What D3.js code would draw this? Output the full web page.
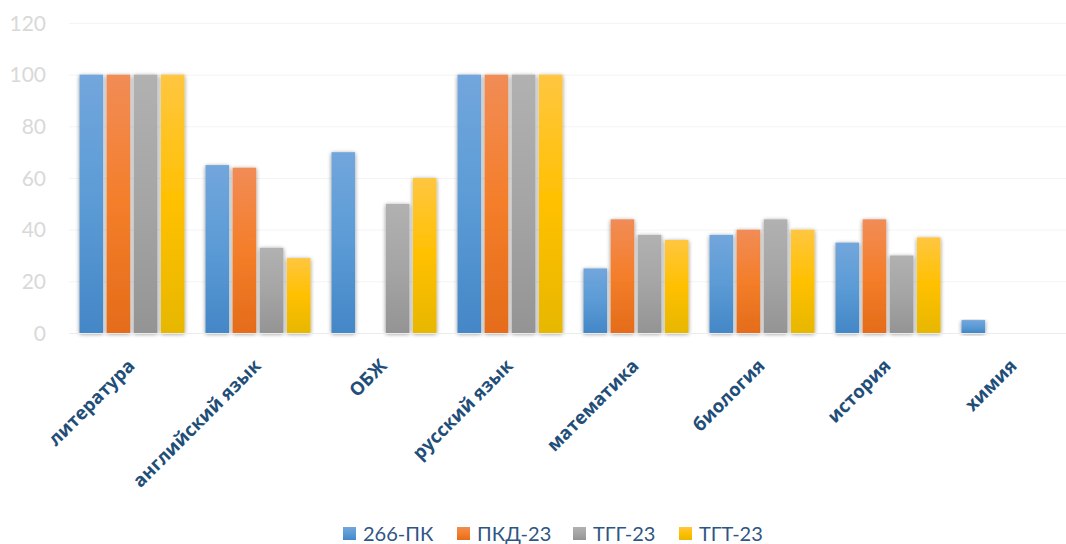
<!DOCTYPE html>
<html>
<head>
<meta charset="utf-8">
<script src="https://cdn.jsdelivr.net/npm/d3@7"></script>
<style>
  body { margin: 0; background: #fff; }
  svg { display: block; font-family: Lato, "Open Sans", sans-serif; }
</style>
</head>
<body>
<svg id="svg" width="1066" height="544"></svg>
<script>
  // данные
  var categories = ['литература', 'английский язык', 'ОБЖ', 'русский язык',
                    'математика', 'биология', 'история', 'химия'];
  var series = ['266-ПК', 'ПКД-23', 'ТГГ-23', 'ТГТ-23'];
  var values266 = [100, 65, 70, 100, 25, 38, 35, 5];
  var valuesPkd = [100, 64, 0, 100, 44, 40, 44, 0];
  var valuesTgg = [100, 33, 50, 100, 38, 44, 30, 0];
  var valuesTgt = [100, 29, 60, 100, 36, 40, 37, 0];
  var yTicks = [0, 20, 40, 60, 80, 100, 120];

  var seriesValues = [values266, valuesPkd, valuesTgg, valuesTgt];
  // цвета градиента: верх, середина, низ
  var colors = [
    ['#72a6dc', '#5b9bd5', '#4487c7'],
    ['#f18c56', '#f47e2a', '#e46c1a'],
    ['#b1b1b1', '#a5a5a5', '#949494'],
    ['#ffc640', '#ffc000', '#e7b700']
  ];

  var svg = d3.select('#svg');

  var x = d3.scaleBand().domain(categories).range([69, 1077])
      .paddingInner(0.1667).paddingOuter(0.0833);
  var xs = d3.scaleBand().domain(series).range([0, x.bandwidth()])
      .paddingInner(0.13).paddingOuter(0);
  var y = d3.scaleLinear().domain([0, 120]).range([333, 23]);

  // ==== defs: градиенты и тень
  var defs = svg.append('defs');
  series.forEach(function (s, i) {
    var g = defs.append('linearGradient').attr('id', 'grad' + i)
      .attr('x1', 0).attr('y1', 0).attr('x2', 0).attr('y2', 1);
    g.append('stop').attr('offset', '0%').attr('stop-color', colors[i][0]);
    g.append('stop').attr('offset', '50%').attr('stop-color', colors[i][1]);
    g.append('stop').attr('offset', '100%').attr('stop-color', colors[i][2]);
  });
  var f = defs.append('filter').attr('id', 'shadow')
    .attr('x', '-50%').attr('y', '-10%').attr('width', '200%').attr('height', '130%');
  f.append('feGaussianBlur').attr('in', 'SourceAlpha').attr('stdDeviation', 2.2).attr('result', 'b');
  f.append('feOffset').attr('in', 'b').attr('dx', 0).attr('dy', 1).attr('result', 'o');
  f.append('feComponentTransfer').attr('in', 'o').attr('result', 'a')
    .append('feFuncA').attr('type', 'linear').attr('slope', 0.45);
  var m = f.append('feMerge');
  m.append('feMergeNode').attr('in', 'a');
  m.append('feMergeNode').attr('in', 'SourceGraphic');

  // ==== сетка и ось Y
  svg.append('g').selectAll('line').data(yTicks.slice(1)).enter().append('line')
    .attr('x1', 69).attr('x2', 1066)
    .attr('y1', function (d) { return y(d) + 0.5; })
    .attr('y2', function (d) { return y(d) + 0.5; })
    .attr('stroke', '#f4f4f4').attr('stroke-width', 1);

  svg.append('g').selectAll('text').data(yTicks).enter().append('text')
    .attr('x', 46).attr('y', function (d) { return y(d); })
    .attr('dy', '0.36em')
    .attr('text-anchor', 'end')
    .attr('fill', '#d9d9d9')
    .attr('font-size', 21)
    .text(function (d) { return d; });

  // ==== столбцы
  var groups = svg.append('g').selectAll('g').data(categories).enter().append('g')
    .attr('transform', function (d) { return 'translate(' + x(d) + ',0)'; });

  groups.selectAll('rect')
    .data(function (d, ci) {
      return series.map(function (s, si) { return { s: s, si: si, v: seriesValues[si][ci] }; })
        .filter(function (e) { return e.v > 0; });
    })
    .enter().append('rect')
    .attr('x', function (d) { return xs(d.s); })
    .attr('y', function (d) { return y(d.v); })
    .attr('width', xs.bandwidth())
    .attr('height', function (d) { return y(0) - y(d.v); })
    .attr('fill', function (d) { return 'url(#grad' + d.si + ')'; })
    .attr('filter', 'url(#shadow)');

  // базовая линия
  svg.append('line')
    .attr('x1', 69).attr('x2', 1066).attr('y1', y(0) + 0.5).attr('y2', y(0) + 0.5)
    .attr('stroke', '#ececec').attr('stroke-width', 1.2);

  // ==== подписи категорий
  svg.append('g').selectAll('text').data(categories).enter().append('text')
    .attr('transform', function (d) {
      return 'translate(' + (x(d) + x.bandwidth() / 2 + 4) + ',367) rotate(-45)';
    })
    .attr('text-anchor', 'end')
    .attr('fill', '#1f4e79')
    .attr('font-family', '"Open Sans", sans-serif')
    .attr('font-size', 18.5)
    .attr('font-weight', 'bold')
    .text(function (d) { return d; });

  // ==== легенда
  var legendX = [343, 457, 573, 679];
  var legend = svg.append('g').selectAll('g').data(series).enter().append('g')
    .attr('transform', function (d, i) { return 'translate(' + legendX[i] + ',527)'; });
  legend.append('rect').attr('width', 13).attr('height', 13)
    .attr('fill', function (d, i) { return 'url(#grad' + i + ')'; });
  legend.append('text').attr('x', 20).attr('y', 7).attr('dy', '0.36em')
    .attr('fill', '#2f5584').attr('font-size', 20)
    .text(function (d) { return d; });
</script>
</body>
</html>
